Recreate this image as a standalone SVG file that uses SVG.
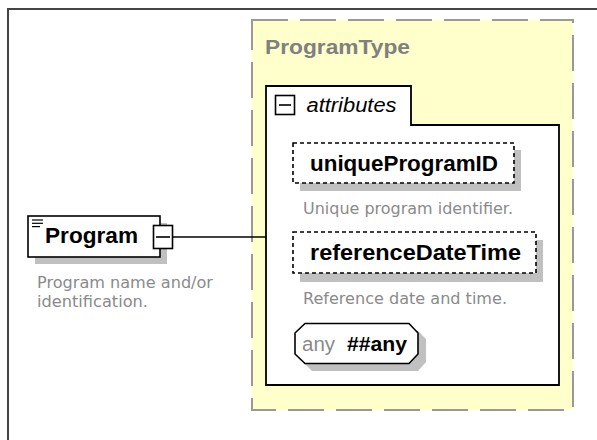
<svg xmlns="http://www.w3.org/2000/svg" width="597" height="440" viewBox="0 0 597 440">
<style>
.shadow{fill:#c0c0c0;stroke:none}
.elem{fill:#fff;stroke:#000;stroke-width:1.6}
.attr{fill:#fff;stroke:#000;stroke-width:1.6;stroke-dasharray:4 3}
.name{font-family:"Liberation Sans",Arial,sans-serif;font-weight:bold;font-size:22px;fill:#000}
.desc{font-family:"DejaVu Sans","Liberation Sans",sans-serif;font-size:16px;fill:#8a8a8a}
.conn{stroke:#000;stroke-width:1.6;fill:none}
</style>
<rect x="0" y="0" width="597" height="440" fill="#fff"/>
<path d="M8,441 V9 H598" fill="none" stroke="#444" stroke-width="2"/>

<g id="ProgramType">
  <rect x="252" y="20" width="321" height="390" fill="#ffffcc" stroke="#999" stroke-width="2" stroke-dasharray="36 12"/>
  <text x="265" y="54" font-family="'Liberation Sans',Arial,sans-serif" font-weight="bold" font-size="20" fill="#808080" textLength="145" lengthAdjust="spacingAndGlyphs">ProgramType</text>
</g>

<g id="attributes">
  <path d="M266,86 H411 V125 H559 V385 H266 Z" fill="#fff" stroke="#000" stroke-width="1.8"/>
  <rect x="275.5" y="95.5" width="19" height="19" fill="#fff" stroke="#000" stroke-width="1.6"/>
  <line x1="279" y1="105" x2="291" y2="105" stroke="#000" stroke-width="1.6"/>
  <text x="306.5" y="112" font-family="'Liberation Sans',Arial,sans-serif" font-style="italic" font-size="20" fill="#000" textLength="90" lengthAdjust="spacingAndGlyphs">attributes</text>
</g>

<g id="uniqueProgramID">
  <rect class="shadow" x="300" y="150" width="221" height="41"/>
  <rect class="attr" x="293" y="143" width="221" height="40"/>
  <text class="name" x="310" y="170.5" textLength="188" lengthAdjust="spacingAndGlyphs">uniqueProgramID</text>
  <text class="desc" x="303" y="213.5" textLength="210" lengthAdjust="spacingAndGlyphs">Unique program identifier.</text>
</g>

<g id="referenceDateTime">
  <rect class="shadow" x="300" y="240" width="243" height="42"/>
  <rect class="attr" x="293" y="232" width="243" height="41"/>
  <text class="name" x="310" y="260" textLength="211" lengthAdjust="spacingAndGlyphs">referenceDateTime</text>
  <text class="desc" x="303" y="304" textLength="204" lengthAdjust="spacingAndGlyphs">Reference date and time.</text>
</g>

<g id="any">
  <polygon class="shadow" points="312,331 418,331 426,339 426,362 418,371 312,371 303,362 303,339"/>
  <polygon class="elem" points="305,323.5 409,323.5 418,333 418,354 409,363.5 305,363.5 295,354 295,333"/>
  <text x="302" y="351" font-family="'Liberation Sans',Arial,sans-serif" font-size="20" fill="#8a8a8a" textLength="33" lengthAdjust="spacingAndGlyphs">any</text>
  <text x="347" y="351" font-family="'Liberation Sans',Arial,sans-serif" font-weight="bold" font-size="21" fill="#000" textLength="60" lengthAdjust="spacingAndGlyphs">##any</text>
</g>

<g id="Program">
  <rect class="shadow" x="35" y="223" width="132" height="41"/>
  <rect class="elem" x="28" y="216" width="132" height="41"/>
  <g stroke="#000" stroke-width="1.2">
    <line x1="32" y1="220" x2="43" y2="220"/>
    <line x1="32" y1="223.3" x2="43" y2="223.3"/>
    <line x1="32" y1="226.6" x2="40" y2="226.6"/>
  </g>
  <text class="name" x="45" y="243" font-size="23" textLength="93" lengthAdjust="spacingAndGlyphs">Program</text>
  <rect x="153.5" y="225.5" width="19" height="23" fill="#fff" stroke="#000" stroke-width="1.6"/>
  <line x1="156" y1="237" x2="170" y2="237" stroke="#000" stroke-width="1.6"/>
  <text class="desc" x="37" y="288" textLength="176" lengthAdjust="spacingAndGlyphs">Program name and/or</text>
  <text class="desc" x="37" y="307" textLength="111" lengthAdjust="spacingAndGlyphs">identification.</text>
</g>

<g id="connectors">
  <line class="conn" x1="173" y1="237" x2="266" y2="237"/>
</g>
</svg>
